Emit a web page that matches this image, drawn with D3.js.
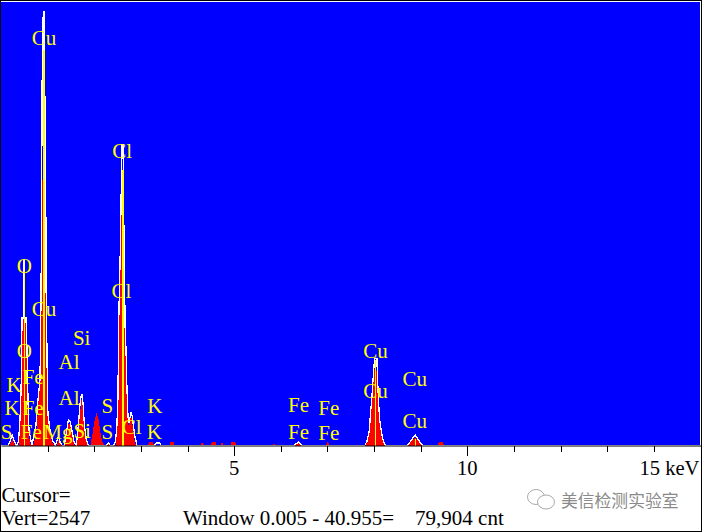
<!DOCTYPE html>
<html><head><meta charset="utf-8"><style>html,body{margin:0;padding:0;background:#fff}svg{display:block}</style>
<script src="https://cdn.jsdelivr.net/npm/d3@7"></script></head><body><svg id="c" width="702" height="532"></svg>
<script>
const whiteSpectrum = [[0,0],[0.157,0],[0.2,26],[0.243,60],[0.285,26],[0.328,3],[0.365,14],[0.386,60],[0.418,204],[0.44,434],[0.45,732],[0.478,732],[0.483,1065],[0.508,1065],[0.51,732],[0.536,732],[0.558,548],[0.579,261],[0.6,89],[0.643,26],[0.665,3],[0.686,32],[0.75,118],[0.793,261],[0.836,376],[0.858,836],[0.873,1525],[0.886,2271],[0.9,2271],[0.905,2490],[0.933,2490],[0.937,2001],[0.954,2001],[0.959,1525],[0.969,836],[0.986,548],[0.997,261],[1.008,175],[1.051,89],[1.1,32],[1.165,3],[1.23,49],[1.273,14],[1.316,0],[1.358,0],[1.401,72],[1.444,146],[1.487,135],[1.53,72],[1.573,14],[1.616,3],[1.659,118],[1.702,261],[1.723,290],[1.745,290],[1.766,215],[1.788,118],[1.83,32],[1.873,0],[2.26,0],[2.303,14],[2.346,0],[2.41,0],[2.445,14],[2.481,89],[2.509,278],[2.52,663],[2.563,1180],[2.584,1582],[2.595,1726],[2.616,1726],[2.623,1582],[2.638,1180],[2.663,663],[2.681,548],[2.702,319],[2.724,164],[2.745,129],[2.788,192],[2.809,175],[2.874,49],[2.917,0],[3.29,0],[3.33,14],[3.4,14],[3.43,0],[6.28,0],[6.38,20],[6.46,0],[7.8,0],[7.85,26],[7.9,89],[7.92,175],[7.95,261],[7.97,347],[8.0,462],[8.015,500],[8.06,500],[8.08,347],[8.1,233],[8.12,146],[8.17,60],[8.2,26],[8.25,0],[8.71,0],[8.77,20],[8.88,60],[8.98,20],[9.05,0],[15,0]];
const redSpectrum = [[0,0],[0.178,0],[0.243,37],[0.307,0],[0.385,0],[0.407,118],[0.429,233],[0.45,548],[0.461,720],[0.476,732],[0.478,1008],[0.504,1008],[0.506,732],[0.53,732],[0.547,548],[0.568,261],[0.59,89],[0.622,9],[0.693,3],[0.757,78],[0.8,233],[0.836,405],[0.858,836],[0.88,1525],[0.9,1525],[0.903,2001],[0.933,2001],[0.954,1525],[0.965,836],[0.986,548],[0.993,261],[1.015,146],[1.058,55],[1.1,14],[1.144,0],[1.187,0],[1.251,43],[1.316,0],[1.358,0],[1.401,60],[1.444,124],[1.487,124],[1.53,55],[1.573,3],[1.616,3],[1.659,101],[1.702,204],[1.723,261],[1.745,261],[1.788,118],[1.83,32],[1.873,0],[1.916,0],[1.959,60],[2.002,135],[2.045,187],[2.088,158],[2.131,78],[2.174,20],[2.217,0],[2.26,0],[2.303,9],[2.346,0],[2.455,0],[2.488,89],[2.52,278],[2.531,663],[2.573,1180],[2.595,1496],[2.638,1496],[2.642,1025],[2.659,663],[2.67,548],[2.691,319],[2.713,164],[2.734,118],[2.777,158],[2.799,158],[2.863,32],[2.895,0],[3.16,0],[3.17,18],[3.25,18],[3.29,0],[3.61,0],[3.63,22],[3.7,22],[3.72,0],[4.28,0],[4.3,12],[4.34,12],[4.36,0],[4.5,0],[4.52,18],[4.6,18],[4.62,0],[4.7,0],[4.72,12],[4.75,12],[4.76,0],[4.92,0],[4.94,18],[5.02,18],[5.05,0],[5.8,0],[5.85,12],[5.9,0],[6.3,0],[6.38,18],[6.44,0],[6.96,0],[7.0,20],[7.06,0],[7.81,0],[7.86,26],[7.91,105],[7.93,175],[7.95,250],[7.97,330],[8.0,440],[8.05,440],[8.07,330],[8.09,233],[8.11,146],[8.16,50],[8.19,20],[8.23,0],[8.73,0],[8.78,18],[8.88,48],[8.97,18],[9.03,0],[9.37,0],[9.39,20],[9.47,20],[9.51,0],[15,0]];
const markerKeV = [0.5,0.925,2.615,8.04,8.89];
const markerCounts = [1000,2271,1582,490,40];
const markerWidths = [1.5,1.5,1.5,1,1];
const peakLabels = ["O","O","Cu","Cu","Cl","Cl","Cl","Si","Si","Al","Al","Mg","S","S","S","K","K","K","K","Fe","Fe","Fe","Fe","Fe","Fe","Fe","Cu","Cu","Cu","Cu"];
const labelKeV = [0.5,0.5,0.92,0.92,2.6,2.58,2.8,1.73,1.74,1.46,1.46,1.22,2.28,2.28,0.12,3.3,3.29,0.28,0.24,0.69,0.69,0.65,6.38,6.38,7.03,7.03,8.03,8.03,8.87,8.87];
const labelCounts = [1030,545,2340,785,1690,890,105,620,85,480,275,78,225,75,78,225,75,350,215,395,215,78,230,75,215,70,540,315,380,140];
const tickValues = d3.range(0,16);
const tickLabels = ["5","10","15 keV"];
const tickLabelValues = [5,10,15];
const footerLines = ["Cursor=","Vert=2547"];
const windowText = "Window 0.005 - 40.955=\u00a0\u00a0\u00a0\u200579,904 cnt";
const watermark = "美信检测实验室";

const serif = "'Liberation Serif','Times New Roman',serif";
const svg = d3.select("#c");
const x = d3.scaleLinear().domain([0,15]).range([1,700.5]);
const y = d3.scaleLinear().domain([0,2547]).range([445.5,2]);

svg.append("rect").attr("x",0.5).attr("y",0.5).attr("width",701).attr("height",531).attr("fill","#fff").attr("stroke","#000");
svg.append("rect").attr("x",1).attr("y",2).attr("width",699).attr("height",443.5).attr("fill","#0000ff");

const g = svg.append("g").attr("shape-rendering","crispEdges");
g.append("path").datum(redSpectrum).attr("fill","#ff0000")
 .attr("d",d3.area().x(d=>x(d[0])).y0(y(0)).y1(d=>y(d[1])));
g.append("path").datum(whiteSpectrum).attr("fill","none").attr("stroke","#fff").attr("stroke-width",1.3)
 .attr("d",d3.line().x(d=>x(d[0])).y(d=>y(d[1])));
g.selectAll("line.m").data(markerKeV).join("line").attr("class","m")
 .attr("x1",d=>x(d)).attr("x2",d=>x(d)).attr("y1",y(0)).attr("y2",(d,i)=>y(markerCounts[i]))
 .attr("stroke","#ffff00").attr("stroke-width",(d,i)=>markerWidths[i]);

svg.append("g").selectAll("text").data(peakLabels).join("text")
 .attr("x",(d,i)=>x(labelKeV[i])).attr("y",(d,i)=>y(labelCounts[i])).attr("text-anchor","middle")
 .attr("dominant-baseline","central")
 .attr("font-family",serif).attr("font-size",21).attr("fill","#ffff00").text(d=>d);

const axis = d3.axisBottom(x).tickValues(tickValues).tickSize(0).tickFormat("");
const ax = svg.append("g").attr("transform","translate(0,445.5)").call(axis);
ax.select(".domain").attr("stroke","#000").attr("stroke-width",1);
ax.selectAll(".tick line").attr("stroke","#000").attr("shape-rendering","crispEdges")
 .attr("y2",d=>d%5===0?10:6);
ax.selectAll(".tick").filter(d=>d===0).remove();

svg.selectAll("text.t").data(tickLabels).join("text").attr("class","t")
 .attr("x",(d,i)=>i===2?x(15)-1:x(tickLabelValues[i])).attr("y",475)
 .attr("text-anchor",(d,i)=>i===2?"end":"middle")
 .attr("font-family",serif).attr("font-size",20.6).attr("fill","#000").text(d=>d);
svg.selectAll("text.f").data(footerLines).join("text").attr("class","f")
 .attr("x",1.5).attr("y",(d,i)=>502+i*23)
 .attr("font-family",serif).attr("font-size",21).attr("fill","#000").text(d=>d);
svg.append("text").attr("x",183).attr("y",525).attr("font-family",serif).attr("font-size",21).attr("fill","#000").text(windowText);

const wm = svg.append("g").attr("fill","#fff").attr("stroke","#aaa").attr("stroke-width",1);
wm.append("ellipse").attr("cx",536).attr("cy",497).attr("rx",8.5).attr("ry",7.5);
wm.append("ellipse").attr("cx",546).attr("cy",502).attr("rx",8.5).attr("ry",7);
svg.append("text").attr("x",561).attr("y",506.5).attr("font-family","'Noto Sans CJK SC'").attr("font-size",16.8)
 .attr("fill","#8a8a8a").text(watermark);
</script></body></html>
